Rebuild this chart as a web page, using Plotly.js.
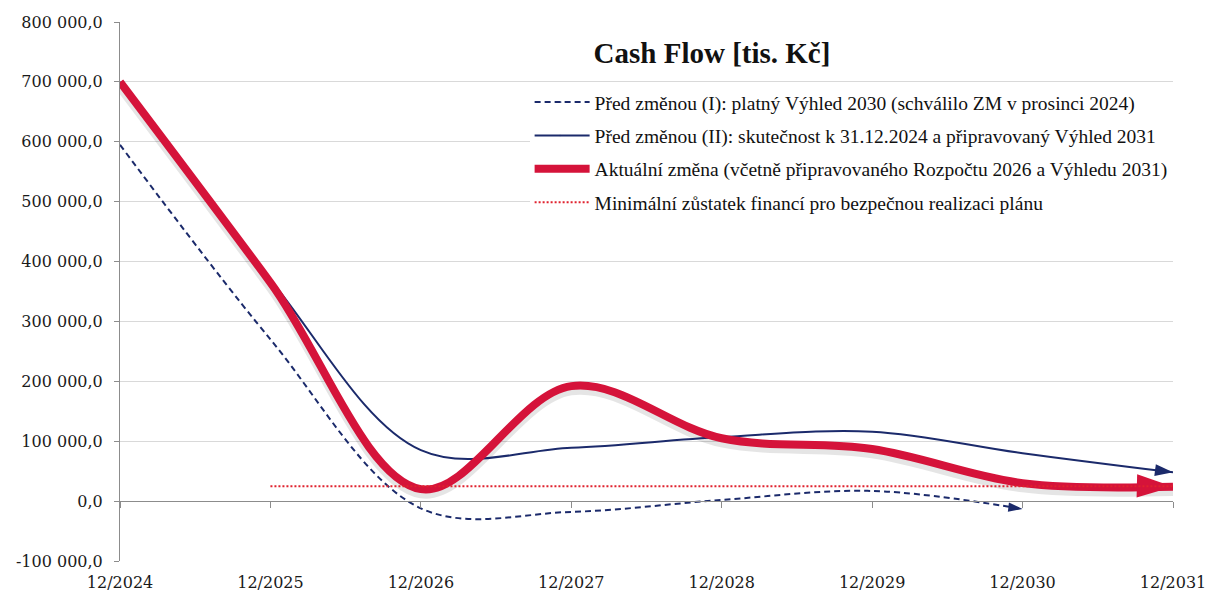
<!DOCTYPE html>
<html>
<head>
<meta charset="utf-8">
<script src="https://cdn.plot.ly/plotly-3.0.1.min.js"></script>
<style>html,body{margin:0;padding:0;background:#fff;}#chart{width:1209px;height:592px;}</style>
</head>
<body>
<div id="chart"></div>
<script>
// ---- data ----
const categories = ['12/2024','12/2025','12/2026','12/2027','12/2028','12/2029','12/2030','12/2031'];
const beforeChangeI  = [595000, 270000, -12000, -18000, 2000, 17000, -13000, null];
const beforeChangeII = [700000, 370000, 85000, 89000, 107000, 116000, 80000, 48000];
const currentChange  = [700000, 365000, 20000, 192000, 105000, 87000, 30000, 24000];
const minimumBalance = [null, 25000, 25000, 25000, 25000, 25000, 25000, 25000];
const yTickValues = [-100000, 0, 100000, 200000, 300000, 400000, 500000, 600000, 700000, 800000];
const yTickLabels = ['-100 000,0','0,0','100 000,0','200 000,0','300 000,0','400 000,0','500 000,0','600 000,0','700 000,0','800 000,0'];
const seriesNames = [
  'Před změnou (I): platný Výhled 2030 (schválilo ZM v prosinci 2024)',
  'Před změnou (II): skutečnost k 31.12.2024 a připravovaný Výhled 2031',
  'Aktuální změna (včetně připravovaného Rozpočtu 2026 a Výhledu 2031)',
  'Minimální zůstatek financí pro bezpečnou realizaci plánu'
];
const chartTitle = 'Cash Flow [tis. Kč]';

// arrow only on the last drawn point
function arrowSizes(vals, s){
  let last = -1;
  vals.forEach((v,i)=>{ if(v!==null) last=i; });
  return vals.map((v,i)=> i===last ? s : 0);
}

const navy = '#1b2a6b';
const red = '#d5133a';
const yRange = [-100000, 800000];
const shadowShift = 7000; // shadow offset in axis units (drawn slightly lower)

const traces = [
  {
    // soft shadow under the thick red line (same data, base axis shifted a little)
    x: categories, y: currentChange, type: 'scatter', mode: 'lines',
    xaxis: 'x', yaxis: 'y', showlegend: false, hoverinfo: 'skip',
    line: {color: 'rgba(0,0,0,0.10)', width: 10, shape: 'spline', smoothing: 1}
  },
  {
    x: categories, y: beforeChangeI, name: seriesNames[0], type: 'scatter', mode: 'lines+markers',
    yaxis: 'y2', cliponaxis: false,
    line: {color: navy, width: 2, dash: '6px,4px', shape: 'spline', smoothing: 1},
    marker: {symbol: 'arrow', angleref: 'previous', size: arrowSizes(beforeChangeI, 15), color: navy, opacity: 1, line: {width: 0}},
    legendgroup: 'a', hoverinfo: 'skip'
  },
  {
    x: categories, y: beforeChangeII, name: seriesNames[1], type: 'scatter', mode: 'lines+markers',
    yaxis: 'y2', cliponaxis: false,
    line: {color: navy, width: 2, shape: 'spline', smoothing: 1},
    marker: {symbol: 'arrow', angleref: 'previous', size: arrowSizes(beforeChangeII, 19), color: navy, opacity: 1, line: {width: 0}},
    legendgroup: 'b', hoverinfo: 'skip'
  },
  {
    x: categories, y: currentChange, name: seriesNames[2], type: 'scatter', mode: 'lines+markers',
    yaxis: 'y2', cliponaxis: false,
    line: {color: red, width: 8, shape: 'spline', smoothing: 1},
    marker: {symbol: 'arrow', angleref: 'previous', size: arrowSizes(currentChange, 38), color: red, opacity: 1, line: {width: 0}},
    legendgroup: 'c', hoverinfo: 'skip'
  },
  {
    x: categories, y: minimumBalance, name: seriesNames[3], type: 'scatter', mode: 'lines',
    xaxis: 'x2', yaxis: 'y2',
    line: {color: '#e0222e', width: 2, dash: '2px,2px'},
    legendgroup: 'd', hoverinfo: 'skip'
  }
];

const axisFont = {family: 'DejaVu Serif, serif', size: 16, color: '#1a1a1a'};

const layout = {
  width: 1209, height: 592,
  margin: {l: 120, r: 36, t: 22, b: 31, pad: 0},
  paper_bgcolor: '#fff', plot_bgcolor: '#fff',
  showlegend: true,
  title: {
    text: '<b>' + chartTitle + '</b>',
    font: {family: 'Liberation Serif, serif', size: 29, color: '#111'},
    x: 712/1209, xanchor: 'center', xref: 'container',
    y: 1 - 53/592, yanchor: 'middle', yref: 'container'
  },
  xaxis: {
    type: 'category', categoryorder: 'array', categoryarray: categories,
    range: [0, 7], showgrid: false, zeroline: false, showline: false,
    ticks: '', tickfont: axisFont, ticklabelstandoff: 10, fixedrange: true
  },
  xaxis2: {
    type: 'category', categoryorder: 'array', categoryarray: categories,
    overlaying: 'x', anchor: 'free', position: 1/9, side: 'bottom',
    range: [0, 7], showgrid: false, zeroline: false, showline: true,
    linecolor: '#8c8c8c', linewidth: 1, ticks: 'outside', ticklen: 6,
    tickcolor: '#8c8c8c', showticklabels: false, fixedrange: true
  },
  // base axis: hidden, slightly shifted, carries only the shadow
  yaxis: {
    range: [yRange[0] + shadowShift, yRange[1] + shadowShift],
    visible: false, showgrid: false, zeroline: false, fixedrange: true
  },
  // visible value axis
  yaxis2: {
    overlaying: 'y', side: 'left', anchor: 'x',
    range: yRange, tickvals: yTickValues, ticktext: yTickLabels,
    showgrid: true, gridcolor: '#d9d9d9', gridwidth: 1, zeroline: false,
    showline: true, linecolor: '#8c8c8c', linewidth: 1,
    ticks: 'outside', ticklen: 5, tickcolor: '#8c8c8c',
    tickfont: axisFont, ticklabelstandoff: 8, fixedrange: true
  },
  legend: {
    x: 0.389, xanchor: 'left', y: 0.887, yanchor: 'top',
    bgcolor: '#ffffff', borderwidth: 0,
    font: {family: 'Liberation Serif, serif', size: 19.5, color: '#111'},
    traceorder: 'grouped', tracegroupgap: 5, itemwidth: 55,
    itemclick: false, itemdoubleclick: false
  }
};

Plotly.newPlot('chart', traces, layout, {staticPlot: true, displayModeBar: false});
</script>
</body>
</html>
